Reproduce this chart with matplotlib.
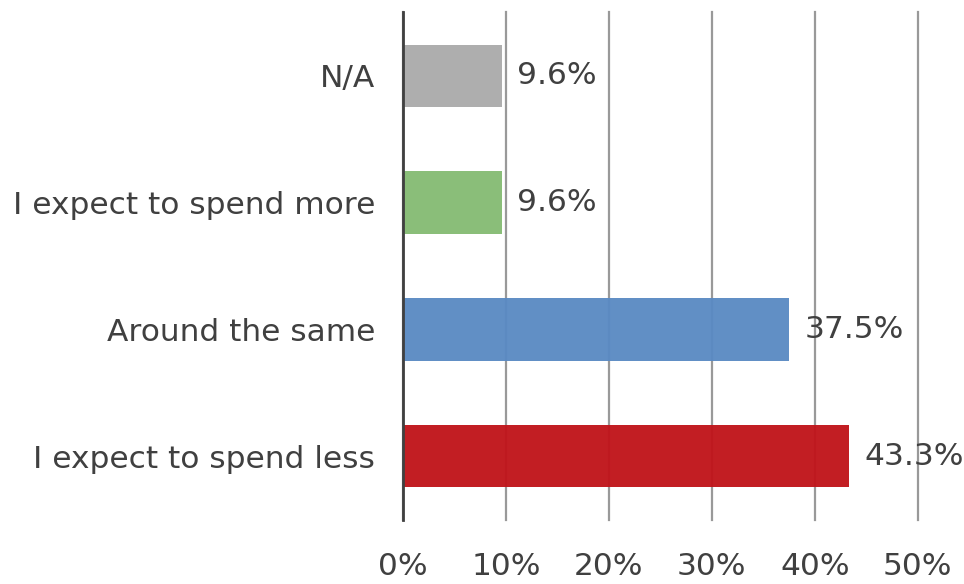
import matplotlib.pyplot as plt
from matplotlib.ticker import FuncFormatter

categories = ["I expect to spend less", "Around the same", "I expect to spend more", "N/A"]
values = [43.3, 37.5, 9.6, 9.6]
colors = ["#C0141A", "#5A8AC3", "#85BC74", "#ABABAB"]
ticks = [0, 10, 20, 30, 40, 50]

fig = plt.figure(figsize=(9.64, 5.84), dpi=100)
ax = fig.add_axes([0.418, 0.110, 0.534, 0.869])

ax.barh(range(len(categories)), values, height=0.49, color=colors, alpha=0.96, zorder=2)
for i, v in enumerate(values):
    ax.text(v + 1.5, i, f"{v:.1f}%", va="center", ha="left", fontsize=22.5,
            color="#404040", zorder=4)

ax.set_xlim(0, 50)
ax.set_ylim(-0.5, 3.5)
ax.set_xticks(ticks)
ax.xaxis.set_major_formatter(FuncFormatter(lambda x, p: f"{x:.0f}%"))
ax.set_yticks(range(len(categories)))
ax.set_yticklabels(categories)
ax.tick_params(axis="both", length=0, labelsize=22.5, labelcolor="#404040")
ax.tick_params(axis="x", pad=23)
ax.tick_params(axis="y", pad=20)

ax.grid(axis="x", color="#999999", linewidth=1.6, zorder=1)
ax.set_axisbelow(True)
for line in ax.get_xgridlines():
    line.set_clip_on(False)
for s in ["top", "right", "bottom"]:
    ax.spines[s].set_visible(False)
ax.spines["left"].set_color("#404040")
ax.spines["left"].set_linewidth(2)
ax.spines["left"].set_zorder(5)

fig.savefig("out.png", dpi=100)
